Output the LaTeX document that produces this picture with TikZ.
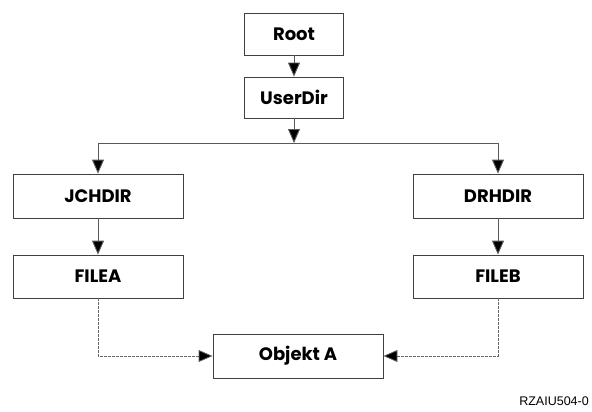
\documentclass[tikz,border=0pt]{standalone}
\usepackage{fontspec}
\setmainfont{Poppins}
\newfontfamily\footfont{Liberation Sans}
\usetikzlibrary{arrows.meta}
\begin{document}
\begin{tikzpicture}[x=1pt,y=-1pt,
  box/.style={draw=black!75,line width=0.8pt,inner sep=0pt,font=\fontsize{18}{18}\selectfont\bfseries},
  conn/.style={draw=black!65,line width=0.9pt},
  arr/.style={conn,-{Triangle[width=12pt,length=14pt,fill=black]}},
  dsh/.style={draw=black!60,line width=0.8pt,dash pattern=on 2.5pt off 1.5pt,-{Triangle[width=12pt,length=14pt,fill=black]}}]
\useasboundingbox (0,0) rectangle (592,412);
\node[box,minimum width=99pt,minimum height=42pt] (root) at (294,34) {Root};
\node[box,minimum width=99pt,minimum height=41pt] (user) at (294,97.5) {UserDir};
\node[box,minimum width=170pt,minimum height=44pt] (jch) at (98,196) {JCHDIR};
\node[box,minimum width=170pt,minimum height=43pt] (filea) at (98,276.5) {FILEA};
\node[box,minimum width=170pt,minimum height=44pt] (drh) at (498,196) {DRHDIR};
\node[box,minimum width=170pt,minimum height=43pt] (fileb) at (498,276.5) {FILEB};
\node[box,minimum width=170pt,minimum height=44pt] (obj) at (298,356) {Objekt A};
\coordinate (hub) at (294,143);
\coordinate (hl) at (98,143);
\coordinate (hr) at (498,143);
\draw[arr] (root) -- (user);
\draw[arr] (user) -- (hub);
\draw[conn] (hl) -- (hr);
\draw[arr] (hl) -- (jch);
\draw[arr] (hr) -- (drh);
\draw[arr] (jch) -- (filea);
\draw[arr] (drh) -- (fileb);
\draw[dsh] (filea) |- (obj);
\draw[dsh] (fileb) |- (obj);
\node[font=\footfont\fontsize{12.5}{12.5}\selectfont,anchor=east,inner sep=0pt] (lbl) at (589,401) {RZAIU504-0};
\end{tikzpicture}
\end{document}
